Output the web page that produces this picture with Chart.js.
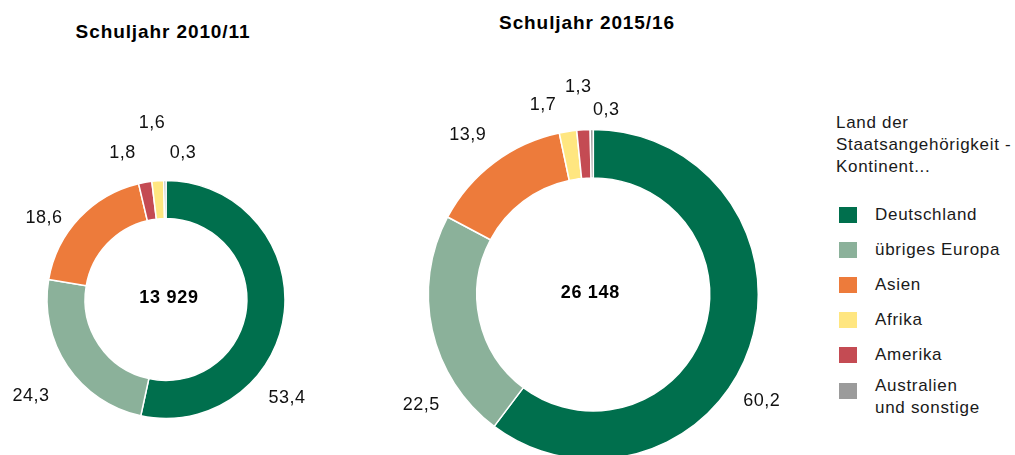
<!DOCTYPE html>
<html><head><meta charset="utf-8">
<script src="https://cdn.jsdelivr.net/npm/chart.js@4"></script>
<style>
html,body{margin:0;padding:0;background:#fff;width:1015px;height:455px;overflow:hidden;position:relative;font-family:"Liberation Sans",Arial,sans-serif;}
.wrap{position:absolute;}
.title{position:absolute;font-weight:bold;font-size:19px;letter-spacing:0.9px;color:#000;white-space:nowrap;transform:translateX(-50%);line-height:22px}
#legendTitle{position:absolute;left:836px;top:112px;font-size:17px;letter-spacing:0.7px;line-height:22px;color:#1a1a1a;white-space:nowrap}
.lg-box{position:absolute;left:839px;width:18px;height:16px}
.lg-text{position:absolute;left:875px;font-size:17px;letter-spacing:0.7px;line-height:22px;color:#1a1a1a;white-space:nowrap}
.lg-wrap{white-space:normal;width:112px}
</style></head>
<body>
<div id="t1" class="title" style="left:163px;top:21px"></div>
<div id="t2" class="title" style="left:587px;top:12px"></div>
<div class="wrap" style="left:0;top:0;width:380px;height:455px"><canvas id="c1" width="380" height="455"></canvas></div>
<div class="wrap" style="left:380px;top:0;width:440px;height:470px"><canvas id="c2" width="440" height="470"></canvas></div>
<div id="legendTitle">Land der<br>Staatsangehörigkeit -<br>Kontinent...</div>
<div id="legend"></div>
<script>
// ---- data ----
const categories = ['Deutschland', 'übriges Europa', 'Asien', 'Afrika', 'Amerika', 'Australien und sonstige'];
const values2010 = [53.4, 24.3, 18.6, 1.6, 1.8, 0.3];
const values2015 = [60.2, 22.5, 13.9, 1.7, 1.3, 0.3];
const totals = [13929, 26148];
const titles = ['Schuljahr 2010/11', 'Schuljahr 2015/16'];

// ---- styles ----
const colors = ['#006F4D', '#8BB19A', '#ED7B3B', '#FFE680', '#C44B53', '#9B9B9B'];

// label placement (offset from doughnut centre, px), keyed by category
const labelOffsets1 = {
  'Deutschland': [121, 98.5], 'übriges Europa': [-135, 96.5], 'Asien': [-122, -81.5],
  'Amerika': [-43.5, -146.5], 'Afrika': [-14, -176.5], 'Australien und sonstige': [17, -146.5]
};
const labelOffsets2 = {
  'Deutschland': [168.4, 107], 'übriges Europa': [-172, 110.5], 'Asien': [-125.6, -159.5],
  'Afrika': [-50.3, -189.2], 'Amerika': [-15, -207.8], 'Australien und sonstige': [13, -184.5]
};

document.getElementById('t1').textContent = titles[0];
document.getElementById('t2').textContent = titles[1];

const fmtPct = v => v.toFixed(1).replace('.', ',');
const fmtTotal = v => String(v).replace(/\B(?=(\d{3})+(?!\d))/g, ' ');

const labelPlugin = {
  id: 'ringLabels',
  afterDatasetsDraw(chart, args, opts) {
    const ctx = chart.ctx;
    const meta = chart.getDatasetMeta(0);
    const arc = meta.data[0];
    const cx = arc.x, cy = arc.y;
    const labels = chart.data.labels;
    const data = chart.data.datasets[0].data;
    ctx.save();
    ctx.textAlign = 'center';
    ctx.textBaseline = 'middle';
    ctx.fillStyle = '#111';
    if ('letterSpacing' in ctx) ctx.letterSpacing = '0.5px';
    ctx.font = '18px "Liberation Sans", Arial, sans-serif';
    labels.forEach((lab, i) => {
      const off = opts.offsets[lab];
      ctx.fillText(fmtPct(data[i]), cx + off[0], cy + off[1]);
    });
    ctx.font = 'bold 18px "Liberation Sans", Arial, sans-serif';
    if ('letterSpacing' in ctx) ctx.letterSpacing = '0.7px';
    ctx.fillStyle = '#000';
    ctx.fillText(fmtTotal(opts.total), cx + opts.totalDx, cy - 1.5);
    ctx.restore();
  }
};

function makeChart(id, values, total, offsets, radius, cutout, padding, totalDx) {
  const order = values.map((v, i) => i).sort((a, b) => values[b] - values[a]);
  new Chart(document.getElementById(id), {
    type: 'doughnut',
    data: {
      labels: order.map(i => categories[i]),
      datasets: [{
        data: order.map(i => values[i]),
        backgroundColor: order.map(i => colors[i]),
        borderColor: '#ffffff',
        borderWidth: 1.5
      }]
    },
    options: {
      responsive: false,
      animation: false,
      radius: radius,
      cutout: cutout,
      layout: { padding: padding },
      plugins: {
        legend: { display: false },
        tooltip: { enabled: false },
        title: { display: false },
        ringLabels: { offsets: offsets, total: total, totalDx: totalDx }
      }
    },
    plugins: [labelPlugin]
  });
}

makeChart('c1', values2010, totals[0], labelOffsets1, 119, '68%',
  { left: 40, right: 88, top: 179.5, bottom: 35.5 }, 3);
makeChart('c2', values2015, totals[1], labelOffsets2, 165, '70.6%',
  { left: 40, right: 53.4, top: 124.5, bottom: 5.5 }, -3);

// ---- legend ----
const legend = document.getElementById('legend');
categories.forEach((cat, i) => {
  const last = i === categories.length - 1;
  const cyItem = 215 + 35 * i;
  const box = document.createElement('div');
  box.className = 'lg-box';
  box.style.background = colors[i];
  box.style.top = (cyItem - 8 + (last ? 0.7 : 0)) + 'px';
  legend.appendChild(box);
  const t = document.createElement('div');
  t.className = 'lg-text' + (last ? ' lg-wrap' : '');
  t.textContent = cat;
  t.style.top = (cyItem - 11 - (last ? 4 : 0)) + 'px';
  legend.appendChild(t);
});
</script>
</body></html>
